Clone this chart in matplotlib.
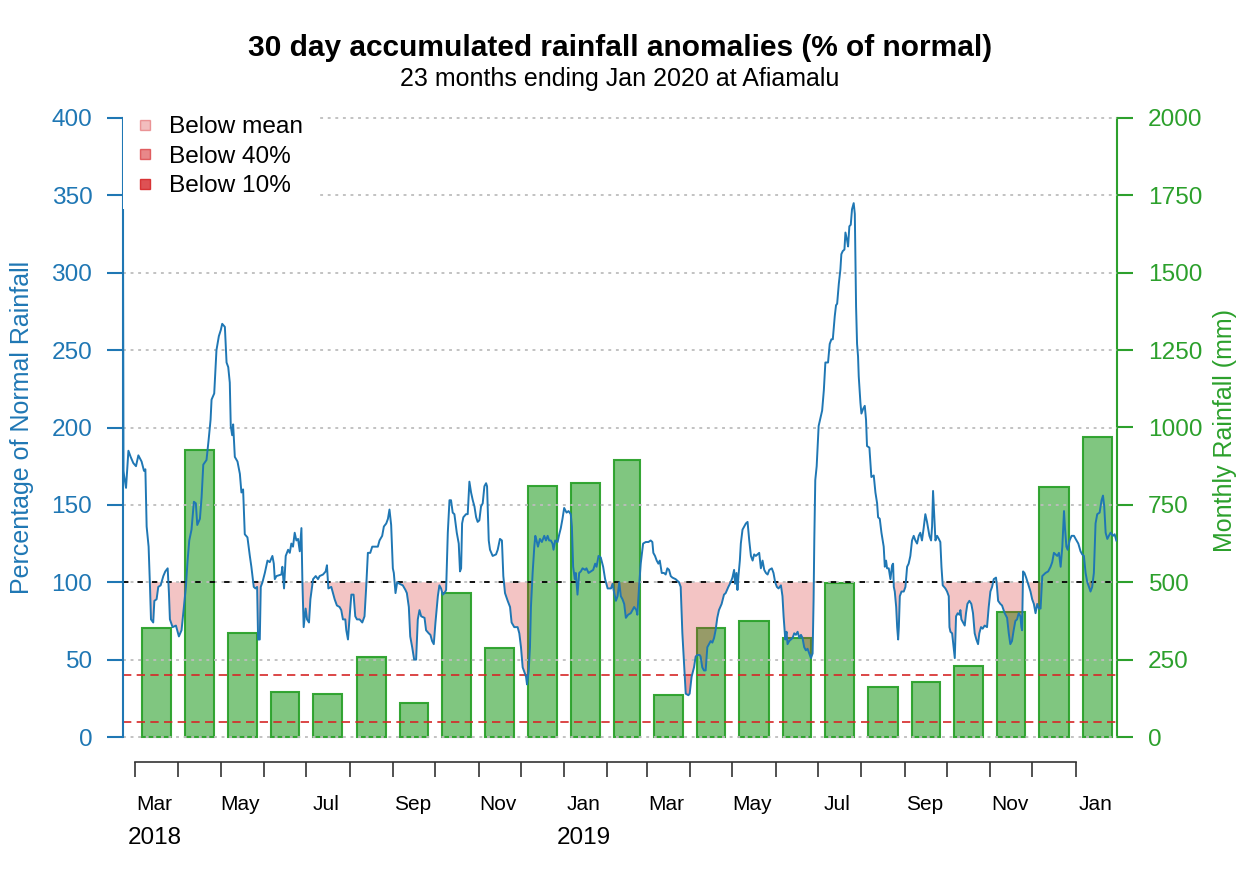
import numpy as np
import pandas as pd
import matplotlib.pyplot as plt
import matplotlib.transforms as mtransforms
from matplotlib.lines import Line2D

plt.rcParams['font.family'] = ['Liberation Sans', 'DejaVu Sans']

# 30 day accumulated rainfall as % of normal, days counted from 1 Mar 2018
line_days = [-8.6, -8.2, -7.8, -6.4, -4.7, -3.1, -1.2, 0.7, 2.4, 4.7, 6.4, 7.4, 8.3, 9.7, 10.7, 11.4, 13.0, 13.8,
             15.4, 16.6, 18.3, 20.2, 21.6, 23.3, 24.2, 24.9, 26.8, 29.2, 31.3, 33.2, 34.9, 36.3, 37.5, 38.7, 40.3,
             42.0, 43.4, 44.4, 46.3, 47.5, 48.7, 51.0, 52.4, 53.9, 54.6, 56.5, 58.1, 59.8, 61.2, 62.2, 64.1, 65.3,
             66.5, 67.6, 68.3, 69.3, 70.0, 71.2, 73.1, 74.8, 75.9, 77.1, 78.3, 80.2, 81.9, 83.0, 84.7, 85.9, 87.1,
             87.8, 89.0, 89.7, 90.9, 92.6, 94.5, 96.1, 98.0, 99.0, 99.7, 100.9, 104.4, 105.1, 106.3, 107.5, 109.2,
             110.4, 111.5, 112.7, 113.9, 115.1, 116.3, 117.5, 118.7, 119.4, 120.3, 121.7, 122.7, 124.1, 125.1,
             127.0, 128.9, 130.5, 131.7, 134.1, 136.0, 136.9, 137.9, 140.0, 141.2, 142.4, 144.0, 145.9, 147.1,
             148.3, 150.0, 150.7, 151.9, 153.1, 154.3, 155.9, 157.1, 158.3, 160.2, 162.1, 163.7, 164.9, 166.1,
             167.8, 169.2, 170.9, 173.2, 174.4, 176.3, 177.5, 179.2, 180.4, 181.5, 182.7, 183.9, 184.6, 185.8,
             187.0, 188.7, 191.0, 192.9, 193.9, 195.3, 196.3, 197.7, 199.1, 200.5, 201.7, 202.9, 204.1, 206.5,
             207.6, 209.5, 210.7, 211.9, 213.1, 214.3, 216.0, 217.1, 218.3, 219.5, 220.7, 221.9, 223.1, 224.3,
             225.4, 226.6, 227.8, 229.5, 230.9, 231.8, 232.6, 233.3, 234.2, 236.1, 237.3, 238.5, 239.7, 240.9,
             242.1, 243.3, 244.4, 245.6, 246.8, 248.0, 249.2, 250.4, 251.1, 252.3, 253.2, 255.1, 257.5, 258.7,
             260.3, 261.7, 262.7, 263.9, 265.8, 267.5, 268.6, 270.5, 272.9, 274.1, 275.3, 276.5, 277.7, 278.9,
             279.6, 280.8, 281.7, 282.4, 283.6, 284.8, 285.5, 286.4, 287.4, 288.8, 290.2, 291.9, 293.1, 294.3,
             295.4, 296.6, 297.8, 298.5, 299.7, 301.4, 302.6, 303.7, 304.9, 306.1, 307.8, 309.2, 310.8, 311.6,
             312.5, 313.7, 314.4, 315.6, 316.8, 318.0, 319.2, 321.1, 322.0, 323.5, 325.1, 326.8, 328.2, 329.2,
             330.6, 332.2, 333.9, 335.3, 337.1, 339.5, 340.6, 341.8, 343.0, 344.2, 345.4, 346.5, 347.7, 348.9,
             350.1, 351.7, 353.6, 354.8, 356.0, 357.6, 358.3, 359.5, 360.7, 362.4, 364.3, 366.2, 367.8, 369.0,
             369.7, 370.9, 372.1, 373.3, 374.3, 375.7, 377.3, 378.5, 379.7, 380.9, 382.1, 383.3, 385.6, 388.0,
             389.2, 390.4, 391.6, 392.8, 394.7, 395.6, 397.0, 398.7, 399.9, 401.1, 402.7, 403.4, 404.6, 405.8,
             407.0, 408.2, 409.4, 410.6, 411.8, 413.0, 414.1, 415.3, 416.5, 418.4, 420.1, 421.3, 423.2, 424.9,
             426.1, 427.3, 428.0, 429.0, 429.7, 430.4, 431.4, 432.1, 433.3, 434.5, 435.7, 436.9, 438.1, 439.3,
             440.5, 441.6, 442.8, 444.0, 445.2, 446.4, 447.6, 448.8, 450.0, 451.2, 452.4, 454.2, 455.4, 456.6,
             457.8, 459.0, 460.7, 461.8, 462.6, 463.8, 464.7, 465.4, 466.6, 467.8, 469.0, 470.2, 471.4, 472.6,
             473.8, 475.0, 476.1, 477.3, 478.5, 479.7, 480.9, 482.1, 483.3, 484.0, 484.5, 485.2, 486.2, 487.6,
             489.3, 490.1, 491.3, 492.4, 494.3, 495.5, 496.7, 497.7, 499.1, 500.0, 500.8, 502.0, 503.1, 503.8,
             504.8, 506.0, 506.7, 507.9, 508.6, 509.5, 510.5, 511.4, 512.6, 513.4, 513.8, 514.3, 515.0, 515.7,
             516.2, 517.4, 518.1, 519.3, 520.5, 521.4, 522.1, 523.8, 525.2, 526.9, 528.1, 529.3, 530.0, 531.2,
             532.4, 534.0, 534.8, 535.7, 536.4, 537.6, 538.8, 540.0, 540.7, 541.2, 541.9, 542.9, 543.6, 544.3,
             544.8, 545.5, 546.7, 548.3, 549.5, 550.7, 551.8, 553.0, 554.2, 555.4, 556.6, 557.8, 559.0, 560.1,
             561.3, 562.5, 563.7, 564.9, 566.6, 567.8, 568.5, 569.2, 570.2, 570.9, 572.1, 573.3, 574.4, 575.2,
             576.1, 578.0, 579.2, 580.4, 580.9, 581.6, 582.8, 584.0, 584.7, 585.6, 586.8, 588.0, 588.7, 589.4,
             590.6, 591.8, 592.7, 593.7, 595.1, 596.5, 597.7, 598.9, 600.1, 601.3, 602.2, 603.4, 604.6, 606.0,
             607.7, 608.9, 610.1, 611.3, 612.5, 614.1, 614.8, 615.6, 617.2, 618.4, 620.3, 622.0, 623.2, 624.3,
             625.5, 626.7, 627.9, 629.1, 630.3, 631.5, 632.2, 632.7, 633.4, 634.4, 635.6, 637.0, 638.7, 639.9,
             641.1, 642.3, 643.5, 644.7, 645.9, 647.1, 648.2, 649.4, 651.3, 653.0, 654.2, 655.4, 656.6, 657.8,
             659.0, 660.2, 661.4, 662.6, 663.3, 664.3, 665.2, 666.6, 668.0, 669.7, 670.9, 672.8, 674.4, 675.6,
             676.8, 678.0, 679.2, 680.4, 681.5, 682.7, 683.9, 685.1, 686.3, 688.0, 689.4, 690.4, 691.3, 692.3,
             693.5, 694.6, 695.8, 697.5, 698.7, 699.9]
line_pct = [338, 172, 169, 161, 185, 181, 177, 175, 182, 178, 172, 173, 136, 123, 97, 76, 74, 88,
            89, 97, 98, 104, 107, 109, 93, 76, 71, 72, 65, 69, 84, 97, 114, 127, 134,
            152, 151, 137, 141, 155, 176, 179, 191, 205, 218, 222, 250, 259, 263, 267, 265, 242,
            239, 229, 201, 195, 202, 181, 178, 170, 158, 160, 131, 129, 117, 110, 97, 96, 97,
            63, 63, 97, 100, 106, 114, 113, 117, 112, 102, 104, 105, 110, 96, 117, 121,
            119, 125, 123, 132, 127, 128, 120, 135, 100, 71, 83, 76, 74, 89,
            102, 104, 102, 104, 105, 107, 111, 96, 97, 93, 89, 85, 84, 82,
            76, 76, 69, 63, 78, 92, 92, 78, 76, 76, 74, 78, 97, 119,
            119, 123, 123, 123, 127, 130, 136, 138, 141, 147, 137, 109, 106, 93,
            100, 99, 98, 95, 93, 84, 65, 58, 50, 50, 76, 82, 78, 77,
            69, 67, 66, 62, 60, 74, 91, 98, 96, 92, 93, 95, 132, 153,
            153, 145, 144, 132, 125, 107, 109, 138, 142, 144, 144, 165, 158, 153,
            149, 142, 139, 140, 149, 151, 162, 164, 162, 127, 121, 117, 118, 121,
            128, 127, 104, 93, 88, 84, 74, 71, 71, 67, 58, 45, 42, 39,
            34, 43, 58, 84, 106, 123, 130, 127, 123, 128, 126, 130, 127, 130,
            127, 127, 125, 121, 127, 126, 131, 135, 141, 148, 145, 146, 144, 136,
            110, 102, 106, 92, 106, 107, 109, 108, 109, 106, 107, 108, 112, 110,
            117, 116, 110, 102, 96, 96, 99, 93, 88, 91, 100, 91, 89, 86,
            77, 79, 80, 82, 84, 82, 79, 97, 112, 125, 126, 126, 127, 126,
            119, 117, 114, 112, 114, 106, 106, 105, 109, 108, 104, 103, 102, 100,
            97, 67, 48, 28, 27, 28, 39, 45, 52, 53, 53, 52, 45, 43,
            43, 58, 60, 62, 61, 64, 69, 77, 82, 86, 92, 93, 97, 100,
            103, 108, 99, 106, 95, 104, 114, 125, 134, 136, 138, 139, 127, 117,
            114, 118, 117, 118, 119, 109, 114, 108, 106, 105, 108, 109, 106, 100,
            97, 96, 98, 91, 78, 63, 68, 60, 62, 63, 64, 67, 66, 68,
            64, 66, 64, 58, 56, 57, 54, 51, 54, 89, 127, 166, 175, 201,
            208, 211, 224, 242, 242, 254, 257, 257, 272, 279, 280, 293, 302, 312,
            314, 315, 326, 321, 317, 330, 331, 341, 345, 338, 310, 278, 254, 246,
            233, 216, 209, 212, 214, 205, 188, 187, 168, 169, 158, 151, 142, 141,
            132, 123, 110, 114, 109, 109, 102, 111, 112, 97, 94, 84, 71, 63,
            71, 91, 94, 94, 97, 110, 112, 117, 127, 130, 127, 125, 130, 132,
            127, 135, 144, 139, 130, 127, 136, 159, 140, 127, 130, 128, 126, 110,
            98, 96, 94, 91, 71, 68, 67, 57, 51, 78, 80, 79, 82, 76,
            74, 72, 80, 86, 88, 86, 80, 67, 63, 60, 67, 71, 70, 72,
            71, 84, 94, 97, 102, 103, 97, 88, 86, 85, 80, 77, 67, 60,
            62, 69, 75, 76, 80, 78, 71, 69, 107, 106, 103, 99, 94, 89,
            86, 80, 86, 83, 83, 104, 105, 106, 107, 110, 113, 119, 118, 117,
            119, 110, 123, 146, 135, 123, 121, 127, 130, 130, 128, 125, 120, 118,
            117, 106, 100, 97, 94, 97, 106, 138, 144, 145, 153, 156, 149, 132,
            128, 130, 132, 130, 131, 127]

# monthly totals, Mar 2018 .. Jan 2020
month_starts = pd.date_range('2018-03-01', '2020-01-01', freq='MS')
monthly_mm = [352, 927, 337, 145, 139, 259, 110, 464, 288, 811, 822, 896,
              137, 353, 375, 320, 498, 160, 179, 230, 403, 809, 970]
year_labels = [('2018', '2018-03-15'), ('2019', '2019-01-15')]

blue = '#1f77b4'
green = '#2ca02c'
red = '#d62728'
base = pd.Timestamp('2018-03-01')

d = np.array(line_days)
p = np.array(line_pct, dtype=float)
m_start = np.array((month_starts - base).days, dtype=float)
m_len = np.array(month_starts.days_in_month, dtype=float)
m_mid = m_start + m_len / 2
m_lab = m_start + 14

W, H = 1240, 885
ppu = 1.5475
ylo, yhi = -12, 412
ybot = 737 + (0 - ylo) * ppu
ytop = 118 - (yhi - 400) * ppu

fig = plt.figure(figsize=(W / 100, H / 100), dpi=100)
ax = fig.add_axes([123 / W, 1 - ybot / H, (1117 - 123) / W, (ybot - ytop) / H])
ax2 = ax.twinx()
ax.set_zorder(ax2.get_zorder() + 1)
ax.patch.set_visible(False)

# bars on the right axis
ax2.bar(m_mid, monthly_mm, width=0.67 * m_len, facecolor=(0.17, 0.63, 0.17, 0.6),
        edgecolor=(0.17, 0.63, 0.17, 0.95), linewidth=1.5)
ax2.set_ylim(ylo * 5, yhi * 5)

# anomaly fills and line
ax.fill_between(d, p, 100, where=p < 100, interpolate=True, color=red, alpha=0.27, lw=0, zorder=1)
ax.fill_between(d, p, 40, where=p < 40, interpolate=True, color=red, alpha=0.27, lw=0, zorder=1)
ax.fill_between(d, p, 10, where=p < 10, interpolate=True, color=red, alpha=0.27, lw=0, zorder=1)
for v in range(0, 401, 50):
    ax.axhline(v, color='#bdbdbd', lw=1.3, ls=(0, (1.6, 2.6)), zorder=1.5)
ax.axhline(100, color='black', lw=1.3, ls=(0, (3, 5)), zorder=2)
ax.axhline(40, color=red, lw=1.2, ls=(0, (5, 3.2)), zorder=2)
ax.axhline(10, color=red, lw=1.2, ls=(0, (5, 3.2)), zorder=2)
ax.plot(d, p, color=blue, lw=1.4, zorder=3)

ax.set_xlim(-8.56, 700.4)
ax.set_ylim(ylo, yhi)

# spines
for s in ['top', 'right']:
    ax.spines[s].set_visible(False)
for s in ['top', 'left', 'bottom']:
    ax2.spines[s].set_visible(False)
ax.spines['left'].set_color(blue)
ax.spines['left'].set_linewidth(1.5)
ax.spines['left'].set_bounds(0, 400)
ax2.spines['right'].set_color(green)
ax2.spines['right'].set_linewidth(1.5)
ax2.spines['right'].set_bounds(0, 2000)
ax.spines['bottom'].set_position(('outward', 4.4))
ax.spines['bottom'].set_bounds(m_start[0], m_start[-1])
ax.spines['bottom'].set_color('#333333')
ax.spines['bottom'].set_linewidth(1.2)

# x axis: ticks at month starts, labels every other month
ax.set_xticks(m_start)
ax.set_xticklabels([''] * len(m_start))
ax.set_xticks(m_lab[::2], minor=True)
ax.set_xticklabels([t.strftime('%b') for t in month_starts[::2]], minor=True)
ax.tick_params(axis='x', which='major', length=10.8, width=1.2, color='#333333')
ax.tick_params(axis='x', which='minor', length=0, pad=24, labelsize=15)

ytrans = mtransforms.blended_transform_factory(ax.transData, fig.transFigure)
for lab, dt in year_labels:
    ax.text((pd.Timestamp(dt) - base).days, 1 - 838 / H, lab, transform=ytrans,
            ha='center', va='center', fontsize=17.5)

# y axes
ax.set_yticks(range(0, 401, 50))
ax.tick_params(axis='y', colors=blue, length=11.5, width=1.5, labelsize=17.6, pad=10.6)
ax2.set_yticks(range(0, 2001, 250))
ax2.tick_params(axis='y', colors=green, length=11.5, width=1.5, labelsize=17.6, pad=10.6)
ax.set_ylabel('Percentage of Normal Rainfall', color=blue, fontsize=18)
ax.yaxis.set_label_coords(-0.0895, 0.5)
ax2.set_ylabel('Monthly Rainfall (mm)', color=green, fontsize=18)
ax2.yaxis.set_label_coords(1.0965, 0.495)

# legend
handles = [Line2D([], [], ls='none', marker='s', ms=7.7, mfc=(0.84, 0.15, 0.16, a), mec=(0.84, 0.15, 0.16, a + 0.1))
           for a in (0.3, 0.55, 0.8)]
leg = ax.legend(handles, ['Below mean', 'Below 40%', 'Below 10%'], loc='upper left',
                bbox_to_anchor=(123 / W, 1 - 104 / H), bbox_transform=fig.transFigure,
                borderaxespad=0, frameon=True, fancybox=False, framealpha=1, edgecolor='none',
                fontsize=17.6, handlelength=0.8, handletextpad=0.6, labelspacing=0.3, borderpad=0.5)

fig.text(620 / W, 1 - 48 / H, '30 day accumulated rainfall anomalies (% of normal)',
         ha='center', va='center', fontsize=21.5, fontweight='bold')
fig.text(620 / W, 1 - 79 / H, '23 months ending Jan 2020 at Afiamalu',
         ha='center', va='center', fontsize=18)

fig.savefig('out.png', dpi=100)
